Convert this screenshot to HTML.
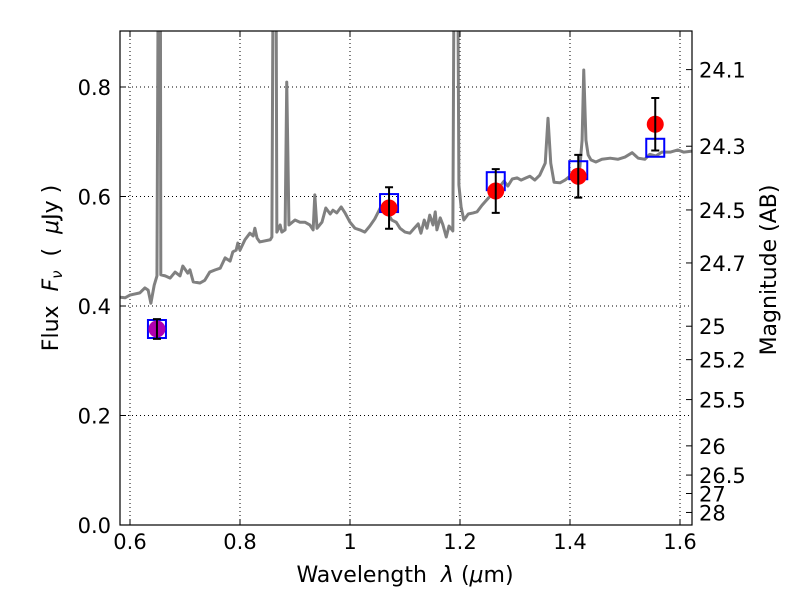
<!DOCTYPE html>
<html><head><meta charset="utf-8"><style>
body{margin:0;background:#fff;}
svg text{font-family:"DejaVu Sans","Liberation Sans",sans-serif;font-size:21px;fill:#000;white-space:pre;}
.ttl{font-size:22px;}
</style></head><body>
<svg id="chart" width="800" height="600" xmlns="http://www.w3.org/2000/svg">
<g id="grid"></g>
<g id="spec"></g>
<g id="pts"></g>
<g id="axes"></g>
<text class="ttl" x="405" y="582" text-anchor="middle">Wavelength&#160;&#160;<tspan font-style="italic">λ</tspan>&#160;(<tspan font-style="italic">μ</tspan>m)</text>
<text class="ttl" transform="translate(58,268) rotate(-90)" text-anchor="middle">Flux&#160;&#160;<tspan font-style="italic">F</tspan><tspan font-style="italic" font-size="15" dy="4">ν</tspan><tspan dy="-4">&#160;&#160;(&#160;&#160;</tspan><tspan font-style="italic">μ</tspan>Jy&#160;)</text>
<text class="ttl" transform="translate(776,270) rotate(-90)" text-anchor="middle">Magnitude (AB)</text>
</svg>
<script>
const specW=[0.582,0.591,0.600,0.618,0.627,0.633,0.638,0.644,0.649,0.652,0.655,0.656,0.664,0.673,0.682,0.691,0.696,0.705,0.709,0.715,0.727,0.736,0.745,0.755,0.764,0.773,0.782,0.787,0.793,0.796,0.800,0.809,0.818,0.824,0.827,0.831,0.836,0.855,0.858,0.861,0.865,0.867,0.873,0.876,0.882,0.885,0.889,0.900,0.909,0.918,0.927,0.933,0.936,0.940,0.949,0.956,0.964,0.969,0.976,0.984,0.991,1.000,1.009,1.018,1.027,1.036,1.045,1.055,1.060,1.067,1.076,1.084,1.091,1.100,1.109,1.116,1.124,1.129,1.135,1.140,1.145,1.151,1.155,1.158,1.164,1.169,1.175,1.180,1.187,1.190,1.195,1.198,1.202,1.207,1.215,1.224,1.231,1.240,1.247,1.255,1.264,1.273,1.280,1.287,1.295,1.304,1.311,1.320,1.327,1.336,1.345,1.355,1.360,1.365,1.371,1.382,1.391,1.400,1.411,1.418,1.422,1.425,1.429,1.433,1.438,1.447,1.458,1.473,1.487,1.500,1.513,1.524,1.536,1.545,1.556,1.567,1.582,1.596,1.607,1.622];
const specF=[0.416,0.415,0.420,0.424,0.433,0.429,0.405,0.438,0.455,1.2,1.2,0.457,0.455,0.451,0.462,0.455,0.473,0.460,0.466,0.444,0.442,0.447,0.462,0.466,0.469,0.488,0.482,0.499,0.502,0.515,0.502,0.521,0.533,0.528,0.542,0.524,0.517,0.521,0.526,1.2,1.2,0.535,0.548,0.535,0.539,0.809,0.548,0.557,0.553,0.553,0.548,0.539,0.603,0.542,0.553,0.579,0.568,0.575,0.570,0.581,0.570,0.553,0.542,0.539,0.535,0.546,0.559,0.579,0.584,0.572,0.557,0.553,0.542,0.535,0.533,0.541,0.550,0.533,0.557,0.542,0.566,0.548,0.572,0.539,0.561,0.548,0.526,0.546,0.537,1.2,1.2,0.621,0.581,0.557,0.568,0.570,0.572,0.584,0.592,0.601,0.612,0.619,0.628,0.619,0.632,0.634,0.630,0.634,0.637,0.630,0.639,0.661,0.743,0.661,0.626,0.625,0.630,0.637,0.641,0.654,0.703,0.831,0.703,0.676,0.667,0.663,0.668,0.670,0.668,0.672,0.680,0.670,0.668,0.677,0.674,0.681,0.681,0.685,0.681,0.683];
const photW=[0.649,1.071,1.265,1.415,1.555];
const photF=[0.358,0.579,0.610,0.637,0.732];
const photErr=[0.018,0.038,0.040,0.039,0.048];
const modelF=[0.358,0.588,0.628,0.648,0.689];
const xTicks=[0.6,0.8,1.0,1.2,1.4,1.6];
const xTickLabels=["0.6","0.8","1","1.2","1.4","1.6"];
const yTicks=[0,0.2,0.4,0.6,0.8];
const yTickLabels=["0.0","0.2","0.4","0.6","0.8"];
const magTicks=[24.1,24.3,24.5,24.7,25,25.2,25.5,26,26.5,27,28];

const L=120,R=692,T=31,B=525;
const x=w=>130+(w-0.6)*550;
const y=f=>525-f*547.5;
const NS="http://www.w3.org/2000/svg";
function mk(tag,parent,attrs){const e=document.createElementNS(NS,tag);for(const k in attrs)e.setAttribute(k,attrs[k]);parent.appendChild(e);return e;}
const grid=document.getElementById('grid'),axes=document.getElementById('axes'),spec=document.getElementById('spec'),pts=document.getElementById('pts');
const defs=mk('defs',document.getElementById('chart'),{});
const cp=mk('clipPath',defs,{id:'clip'});mk('rect',cp,{x:L,y:T,width:R-L,height:B-T});
spec.setAttribute('clip-path','url(#clip)');pts.setAttribute('clip-path','url(#clip)');

xTicks.forEach((v,i)=>{
 const g=mk('line',grid,{x1:x(v),x2:x(v),y1:T,y2:B,stroke:'#000','stroke-width':1,'stroke-dasharray':'1,3'});
 
 
 mk('line',axes,{x1:x(v),x2:x(v),y1:B,y2:B-6,stroke:'#000'});
 mk('line',axes,{x1:x(v),x2:x(v),y1:T,y2:T+6,stroke:'#000'});
 const t=mk('text',axes,{x:x(v),y:B+24,'text-anchor':'middle'});t.textContent=xTickLabels[i];
 
 
});
yTicks.forEach((v,i)=>{
 const g=mk('line',grid,{x1:L,x2:R,y1:y(v),y2:y(v),stroke:'#000','stroke-width':1,'stroke-dasharray':'1,3'});
 
 
 mk('line',axes,{x1:L,x2:L+6,y1:y(v),y2:y(v),stroke:'#000'});
 const t=mk('text',axes,{x:L-9,y:y(v)+8,'text-anchor':'end'});t.textContent=yTickLabels[i];
 
 
});
magTicks.forEach(m=>{
 const f=Math.pow(10,(23.9-m)/2.5);const yy=y(f);
 mk('line',axes,{x1:R,x2:R-6,y1:yy,y2:yy,stroke:'#000'});
 const t=mk('text',axes,{x:R+7,y:yy+8});t.textContent=String(m);
 
 
});
mk('rect',axes,{x:L,y:T,width:R-L,height:B-T,fill:'none',stroke:'#000','stroke-width':1.2});

const pl=mk('polyline',spec,{points:specW.map((w,i)=>x(w)+','+y(specF[i])).join(' '),fill:'none',stroke:'#808080','stroke-width':3,'stroke-linejoin':'round'});



photW.forEach((w,i)=>{
 const px=x(w);
 const sq=mk('rect',pts,{x:px-9,y:y(modelF[i])-9,width:18,height:18,fill:'none',stroke:'#0000ff','stroke-width':2});
 
 
 const c=mk('circle',pts,{cx:px,cy:y(photF[i]),r:8.5,fill:i===0?'#b000b0':'#ff0000'});
 
 
 const y1=y(photF[i]+photErr[i]),y2=y(photF[i]-photErr[i]);
 const eb=mk('path',pts,{d:`M${px},${y1}V${y2}M${px-4},${y1}H${px+4}M${px-4},${y2}H${px+4}`,stroke:'#000','stroke-width':2,fill:'none'});
 
 
});
</script>
</body></html>
